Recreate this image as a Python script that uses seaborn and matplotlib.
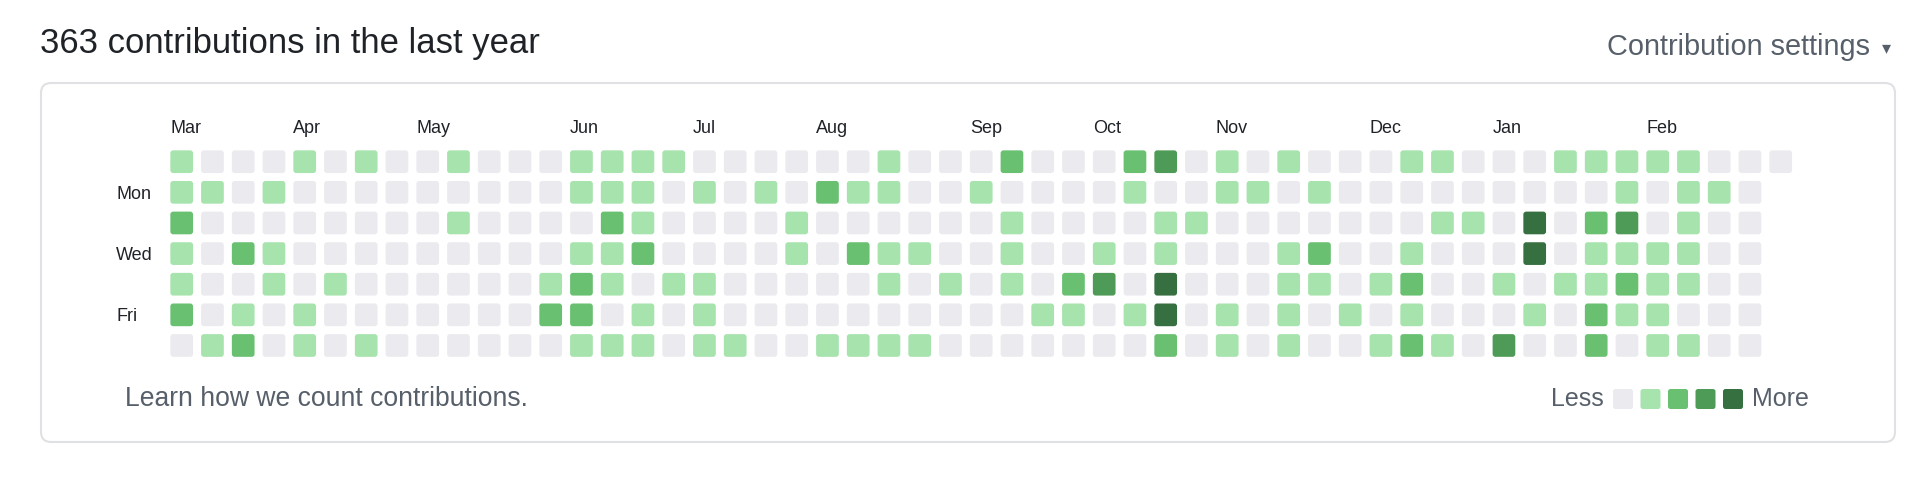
import matplotlib
matplotlib.use("Agg")
import matplotlib.pyplot as plt
from matplotlib.path import Path
from matplotlib.patches import FancyBboxPatch
import pandas as pd
import seaborn as sns

# contribution levels per weekday row (0 = none ... 4 = most), one char per week
sun = "1000101001" "0001111000" "0001000200" "0230101000" "1100011111" "000"
mon = "1101000000" "0001110101" "0211001000" "0100110100" "0000000101" "10"
tue = "2000000001" "0000210000" "1000000100" "0011000000" "0110402301" "00"
wed = "1021000000" "0001120000" "1021100100" "1010001200" "1000401111" "00"
thu = "1001010000" "0012101100" "0001010102" "3040001101" "2001011211" "00"
fri = "2010100000" "0022010100" "0000000011" "0140101010" "1000102110" "00"
sat = "0120101000" "0001110110" "0111100000" "0020101001" "2103002011" "00"
day_rows = [sun, mon, tue, wed, thu, fri, sat]

day_labels = ["", "Mon", "", "Wed", "", "Fri", ""]
months = ["Mar", "Apr", "May", "Jun", "Jul", "Aug", "Sep", "Oct", "Nov", "Dec", "Jan", "Feb"]
month_week = [0, 4, 8, 13, 17, 21, 26, 30, 34, 39, 43, 48]

level_colors = ["#ebebef", "#a6e3ad", "#68c070", "#4e9b57", "#366f40"]
total = 363

# tidy table
records = []
for d, row in enumerate(day_rows):
    for w, ch in enumerate(row):
        records.append({"week": w, "day": d, "level": int(ch)})
df = pd.DataFrame(records)
legend_df = pd.DataFrame({"pos": range(5), "y": [0] * 5, "level": range(5)})


def rounded_square(r=0.25):
    verts = [(-1 + r, -1), (1 - r, -1), (1, -1), (1, -1 + r), (1, 1 - r), (1, 1),
             (1 - r, 1), (-1 + r, 1), (-1, 1), (-1, 1 - r), (-1, -1 + r), (-1, -1),
             (-1 + r, -1), (0, 0)]
    codes = [Path.MOVETO, Path.LINETO, Path.CURVE3, Path.CURVE3, Path.LINETO,
             Path.CURVE3, Path.CURVE3, Path.LINETO, Path.CURVE3, Path.CURVE3,
             Path.LINETO, Path.CURVE3, Path.CURVE3, Path.CLOSEPOLY]
    return Path(verts, codes)


sns.set_theme(style="white")
plt.rcParams["font.family"] = ["Liberation Sans", "DejaVu Sans"]

W, H = 1920, 494
fig = plt.figure(figsize=(W / 100, H / 100), dpi=100)
fig.patch.set_facecolor("white")

# background layer in pixel coordinates for the frame and texts
bg = fig.add_axes([0, 0, 1, 1])
bg.set_xlim(0, W)
bg.set_ylim(H, 0)
bg.axis("off")
bg.add_patch(FancyBboxPatch((41, 83), 1854, 359, boxstyle="round,pad=0,rounding_size=10",
                            facecolor="white", edgecolor="#dfe1e4", linewidth=1.5))
bg.text(40, 44, f"{total} contributions in the last year", fontsize=24.9,
        color="#1f2328", va="center", ha="left")
bg.text(1870, 47, "Contribution settings", fontsize=20.8, color="#57606a",
        va="center", ha="right")
bg.text(1886, 48, "\u25be", fontsize=13, color="#57606a", va="center", ha="center",
        family="DejaVu Sans")
bg.text(125, 399, "Learn how we count contributions.", fontsize=19.1, color="#57606a",
        va="center", ha="left")
bg.text(1604, 399, "Less", fontsize=18, color="#57606a", va="center", ha="right")
bg.text(1752, 399, "More", fontsize=18, color="#57606a", va="center", ha="left")

palette = dict(enumerate(level_colors))
marker = rounded_square()

# contribution grid
pitch_x, pitch_y = 30.75, 30.63
left, top = 181.7 - pitch_x / 2, 161.7 - pitch_y / 2
ax = fig.add_axes([left / W, 1 - (top + 7 * pitch_y) / H, 53 * pitch_x / W, 7 * pitch_y / H])
ax.patch.set_alpha(0)
sns.scatterplot(data=df, x="week", y="day", hue="level", palette=palette, marker=marker,
                s=22.7 ** 2 * 0.5184, linewidth=0, edgecolor="none", legend=False, ax=ax)
ax.set_xlim(-0.5, 52.5)
ax.set_ylim(6.5, -0.5)
ax.set_xticks([])
ax.set_yticks(range(7))
ax.set_yticklabels(day_labels, fontsize=13, color="#1f2328", ha="left")
ax.tick_params(axis="y", length=0, pad=36)
ax.set_xlabel("")
ax.set_ylabel("")
for s in ax.spines.values():
    s.set_visible(False)
for name, w in zip(months, month_week):
    ax.text(w - 0.37, -1.07, name, fontsize=13, color="#1f2328", ha="left",
            va="center", clip_on=False)

# legend squares
lax = fig.add_axes([1609.25 / W, 1 - 412.75 / H, 137.5 / W, 27.5 / H])
lax.patch.set_alpha(0)
sns.scatterplot(data=legend_df, x="pos", y="y", hue="level", palette=palette, marker=marker,
                s=20 ** 2 * 0.5184, linewidth=0, edgecolor="none", legend=False, ax=lax)
lax.set_xlim(-0.5, 4.5)
lax.set_ylim(-0.5, 0.5)
lax.axis("off")

fig.savefig("out.png", dpi=100, facecolor="white")
